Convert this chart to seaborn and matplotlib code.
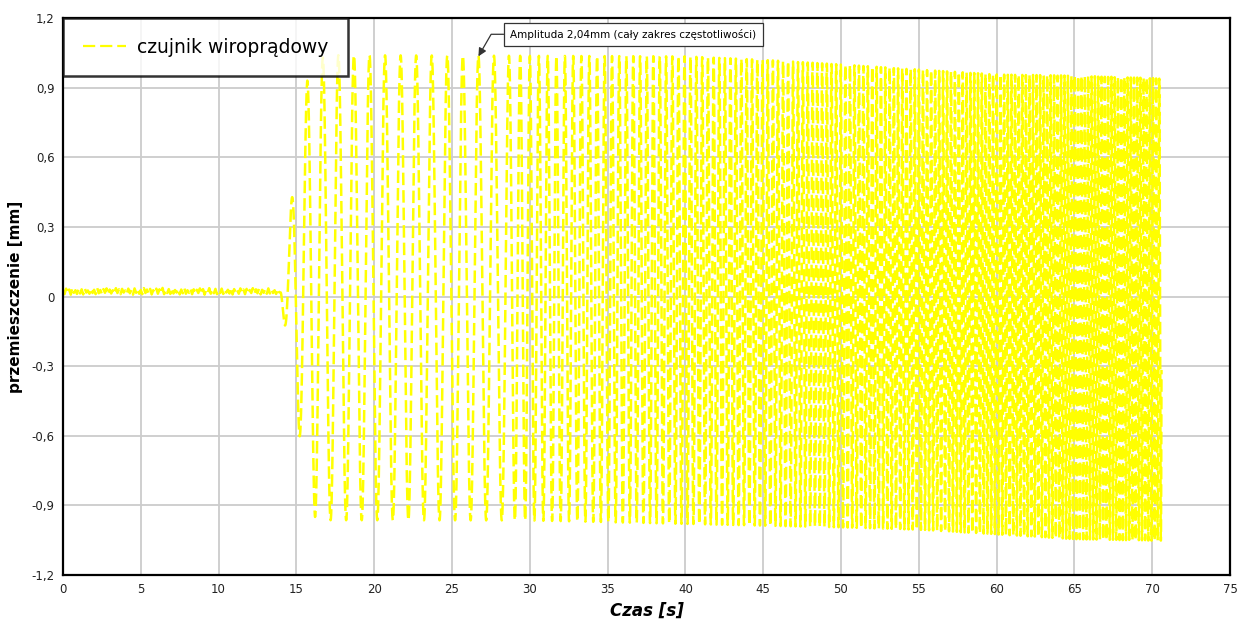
import numpy as np
import pandas as pd
import matplotlib
matplotlib.use("Agg")
import matplotlib.pyplot as plt
import seaborn as sns

# ---- data ----
# pre-excitation sensor readings (every 0.1 s, 0 .. 13.9 s) [mm]
base_t0 = 0.0
base_step = 0.1
base_vals = [0.028, 0.010, 0.034, 0.014, 0.030, 0.008, 0.036, 0.016, 0.027, 0.011,
             0.033, 0.013, 0.031, 0.009, 0.035, 0.017, 0.026, 0.012, 0.034, 0.015,
             0.029, 0.010, 0.037, 0.014, 0.028, 0.011, 0.032, 0.016, 0.035, 0.009,
             0.030, 0.013, 0.027, 0.012, 0.036, 0.015, 0.031, 0.010, 0.033, 0.017,
             0.026, 0.011, 0.034, 0.014, 0.029, 0.008, 0.035, 0.016, 0.032, 0.012,
             0.028, 0.010, 0.036, 0.015, 0.030, 0.013, 0.033, 0.009, 0.027, 0.016,
             0.034, 0.012, 0.031, 0.014, 0.037, 0.010, 0.029, 0.015, 0.032, 0.011,
             0.035, 0.013, 0.028, 0.017, 0.033, 0.009, 0.030, 0.014, 0.036, 0.012,
             0.027, 0.016, 0.034, 0.010, 0.031, 0.013, 0.029, 0.015, 0.035, 0.011,
             0.032, 0.008, 0.028, 0.016, 0.036, 0.012, 0.030, 0.014, 0.033, 0.010,
             0.026, 0.015, 0.034, 0.011, 0.031, 0.017, 0.029, 0.013, 0.037, 0.009,
             0.032, 0.014, 0.027, 0.012, 0.035, 0.016, 0.030, 0.010, 0.033, 0.013,
             0.028, 0.015, 0.036, 0.011, 0.031, 0.014, 0.034, 0.009, 0.029, 0.016,
             0.032, 0.012, 0.035, 0.013, 0.030, 0.015, 0.027, 0.011, 0.033, 0.018]

# excitation frequency read from peak spacing [s] -> [Hz]
freq_t = [14.0, 28.3, 29.0, 30.0, 33.0, 40.0, 49.0, 60.0, 70.6]
freq_hz = [1.0, 1.0, 1.4, 1.7, 1.9, 2.6, 3.3, 4.2, 5.0]
first_peak_t = 14.7

# upper envelope (peaks) [s], [mm]
upper_t = [14.0, 14.7, 15.7, 16.7, 17.7, 40.0, 45.0, 50.0, 55.0, 60.0, 65.0, 70.6]
upper_v = [0.03, 0.42, 0.93, 1.03, 1.04, 1.035, 1.02, 1.0, 0.978, 0.957, 0.952, 0.94]

# lower envelope (troughs) [s], [mm]
lower_t = [14.0, 14.27, 15.2, 16.2, 17.2, 30.0, 40.0, 50.0, 55.0, 60.0, 65.0, 70.6]
lower_v = [0.01, -0.14, -0.60, -0.95, -0.964, -0.965, -0.98, -0.995, -1.005, -1.025, -1.046, -1.053]

x_ticks = [0, 5, 10, 15, 20, 25, 30, 35, 40, 45, 50, 55, 60, 65, 70, 75]
y_ticks = [-1.2, -0.9, -0.6, -0.3, 0.0, 0.3, 0.6, 0.9, 1.2]
y_tick_labels = ["-1,2", "-0,9", "-0,6", "-0,3", "0", "0,3", "0,6", "0,9", "1,2"]

series_name = "czujnik wiroprądowy"
note_text = "Amplituda 2,04mm (cały zakres częstotliwości)"
note_t, note_v = 26.7, 1.035

# ---- build the series ----
t_base = base_t0 + base_step * np.arange(len(base_vals))
dt = 0.004
t_osc = np.arange(14.0, 70.6 + dt / 2, dt)
f = np.interp(t_osc, freq_t, freq_hz)
phase = 2 * np.pi * np.cumsum(f) * dt
phase -= np.interp(first_peak_t, t_osc, phase)
up = np.interp(t_osc, upper_t, upper_v)
lo = np.interp(t_osc, lower_t, lower_v)
y_osc = (up + lo) / 2 + (up - lo) / 2 * np.cos(phase)

df = pd.DataFrame({"t": np.concatenate([t_base, t_osc]),
                   "y": np.concatenate([base_vals, y_osc])})

# ---- plot ----
sns.set_style("white")
plt.rcParams['font.family'] = ['DejaVu Sans']
fig = plt.figure(figsize=(12.42, 6.22), dpi=100)
ax = fig.add_axes([0.0507, 0.0756, 0.9396, 0.8954])

sns.lineplot(data=df, x="t", y="y", estimator=None, sort=False, ax=ax,
             color="#ffff00", linewidth=1.8, label=series_name,
             dashes=False)
line = ax.lines[0]
line.set_linestyle((0, (5.0, 2.0)))

ax.set_xlim(0, 75)
ax.set_ylim(-1.2, 1.2)
ax.set_xticks(x_ticks)
ax.set_xticklabels([str(v) for v in x_ticks])
ax.set_yticks(y_ticks)
ax.set_yticklabels(y_tick_labels)
ax.tick_params(axis="both", labelsize=8.5, colors="#222222", length=0, pad=6)
ax.grid(True, color="#cccccc", linewidth=1.3)
ax.set_axisbelow(True)
for s in ax.spines.values():
    s.set_visible(True)
    s.set_color("black")
    s.set_linewidth(1.6)

ax.set_xlabel("Czas [s]", fontsize=12, fontweight="bold", style="italic",
              labelpad=4, color="black")
ax.set_ylabel("przemieszczenie [mm]", fontsize=11, fontweight="bold",
              labelpad=6, color="black")

leg = ax.legend(loc="upper left", bbox_to_anchor=(0.0, 1.0), fontsize=13.5,
                frameon=True, fancybox=False, shadow=False, borderaxespad=0,
                handlelength=2.3, borderpad=1.05, handletextpad=0.6)
leg.get_frame().set_edgecolor("black")
leg.get_frame().set_linewidth(1.8)
for txt in leg.get_texts():
    txt.set_color("black")
for h in leg.get_lines():
    h.set_linestyle((0, (5.5, 2.2)))
    h.set_linewidth(1.6)

ax.annotate(note_text, xy=(note_t, note_v), xytext=(28.75, 1.13),
            fontsize=7.5, ha="left", va="center", color="black",
            bbox=dict(boxstyle="square,pad=0.6", fc="white", ec="#333333", lw=0.9),
            arrowprops=dict(arrowstyle="-|>", color="#333333", lw=0.9,
                            connectionstyle="angle,angleA=0,angleB=60,rad=0",
                            shrinkA=0, shrinkB=0, mutation_scale=12))

fig.savefig("out.png", dpi=100)
